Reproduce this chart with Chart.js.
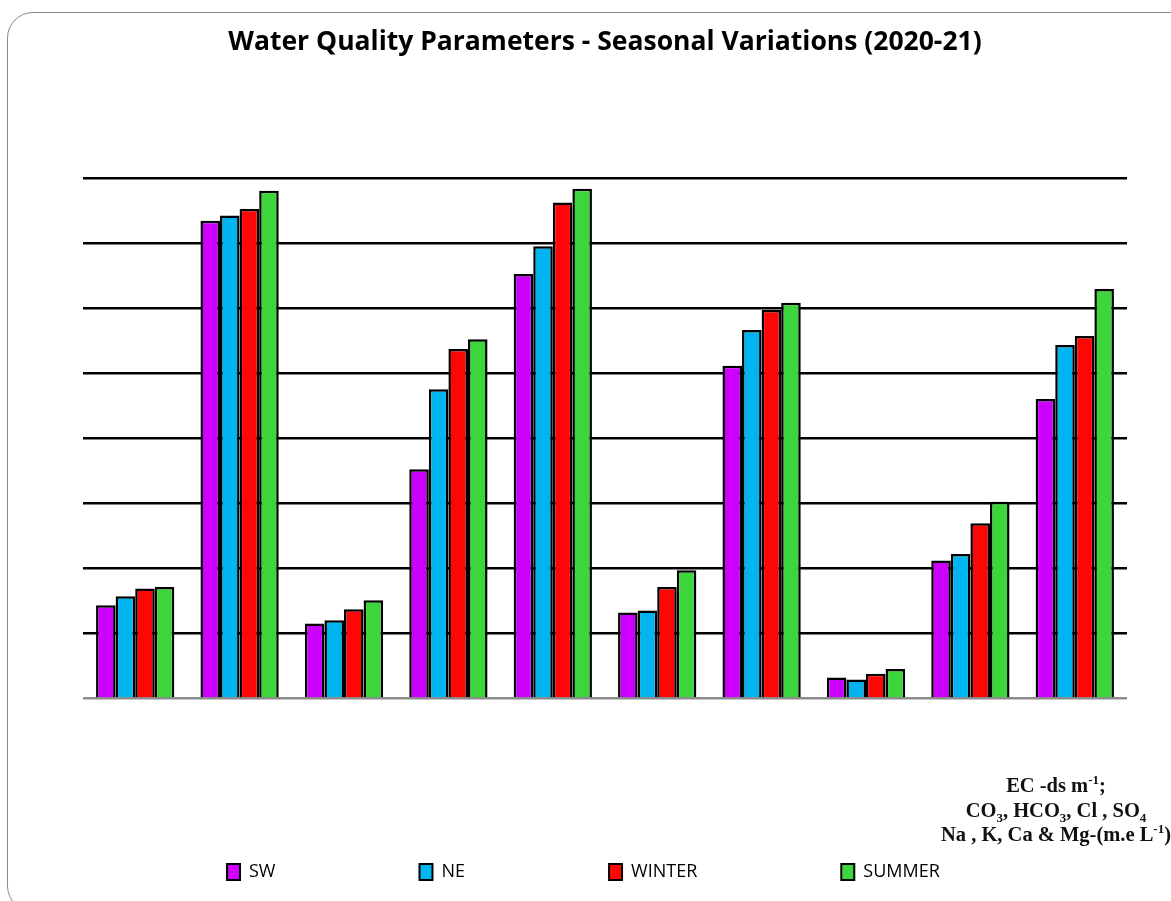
<!DOCTYPE html>
<html>
<head>
<meta charset="utf-8">
<script src="https://cdn.jsdelivr.net/npm/chart.js@4/dist/chart.umd.min.js"></script>
<style>
  html, body { margin:0; padding:0; background:#fff; overflow:hidden; }
  #frame { position:absolute; left:7px; top:12px; width:1200px; height:900px;
           border:1.5px solid #8a8a8a; border-radius:26px; box-sizing:border-box; }
  #wrap { position:absolute; left:0; top:0; width:1171px; height:901px; }
  #units { position:absolute; left:906px; top:773px; width:300px; text-align:center;
           font-family:"Liberation Serif", "DejaVu Serif", serif; font-weight:bold;
           font-size:20.5px; line-height:24.5px; white-space:nowrap; color:#111; }
  #units sup, #units sub { font-size:13px; line-height:0; }
</style>
</head>
<body>
<div id="frame"></div>
<div id="wrap"><canvas id="chartWQ"></canvas></div>
<div id="units">EC -ds m<sup>-1</sup>;<br>CO<sub>3</sub>, HCO<sub>3</sub>, Cl , SO<sub>4</sub><br>Na , K, Ca &amp; Mg-(m.e L<sup>-1</sup>)</div>
<script>
// parametres (les etiquettes ne sont pas affichees sur la figure)
const parametres = ["pH", "EC", "CO3", "HCO3", "Cl", "SO4", "Na", "K", "Ca", "Mg"];

// valeurs
const valeursSW     = [1.43, 7.34, 1.15, 3.52, 6.52, 1.32, 5.11, 0.32, 2.12, 4.60];
const valeursNE     = [1.57, 7.42, 1.20, 4.75, 6.95, 1.35, 5.66, 0.29, 2.22, 5.43];
const valeursWinter = [1.69, 7.52, 1.37, 5.37, 7.62, 1.71, 5.97, 0.38, 2.69, 5.57];
const valeursSummer = [1.71, 7.80, 1.51, 5.52, 7.83, 1.97, 6.08, 0.45, 3.02, 6.29];

const saisons = ["SW", "NE", "WINTER", "SUMMER"];
const couleurs = ["#cc00ff", "#00b4f0", "#ff0505", "#3cd63c"];
const series = [valeursSW, valeursNE, valeursWinter, valeursSummer];

new Chart(document.getElementById("chartWQ"), {
  type: 'bar',
  data: {
    labels: parametres,
    datasets: saisons.map((s, i) => ({
      label: s, data: series[i], backgroundColor: couleurs[i],
      borderColor: "#000", borderWidth: 2.5, borderSkipped: 'bottom'
    }))
  },
  options: {
    responsive: true, maintainAspectRatio: false, animation: false,
    layout: { padding: { left: 83, right: 44, top: 0, bottom: 10 } },
    datasets: { bar: { categoryPercentage: 0.75, barPercentage: 1 } },
    scales: {
      x: { grid: { display: false }, ticks: { display: false }, border: { display: false } },
      y: {
        min: 0, max: 8,
        ticks: { display: false, stepSize: 1 },
        border: { display: false },
        grid: { color: ctx => ctx.index === 0 ? "#8c8c8c" : "#000", lineWidth: 2.5, drawTicks: false }
      }
    },
    plugins: {
      title: {
        display: true, text: "Water Quality Parameters - Seasonal Variations (2020-21)",
        color: "#000", font: { family: "Open Sans", size: 26.5, weight: 'bold' },
        padding: { top: 27, bottom: 119 }
      },
      legend: {
        position: 'bottom', align: 'start',
        title: { display: true, text: " ", font: { size: 8 }, padding: { top: 3, bottom: 0 } },
        labels: {
          color: "#000", font: { family: "Open Sans", size: 18 },
          boxWidth: 13, boxHeight: 16, padding: 144,
          generateLabels: chart => chart.data.datasets.map((d, i) => ({
            text: d.label, fillStyle: d.backgroundColor, strokeStyle: "#000",
            fontColor: "#000", lineWidth: 2, datasetIndex: i, hidden: false
          }))
        }
      },
      tooltip: { enabled: false }
    }
  }
});
</script>
</body>
</html>
